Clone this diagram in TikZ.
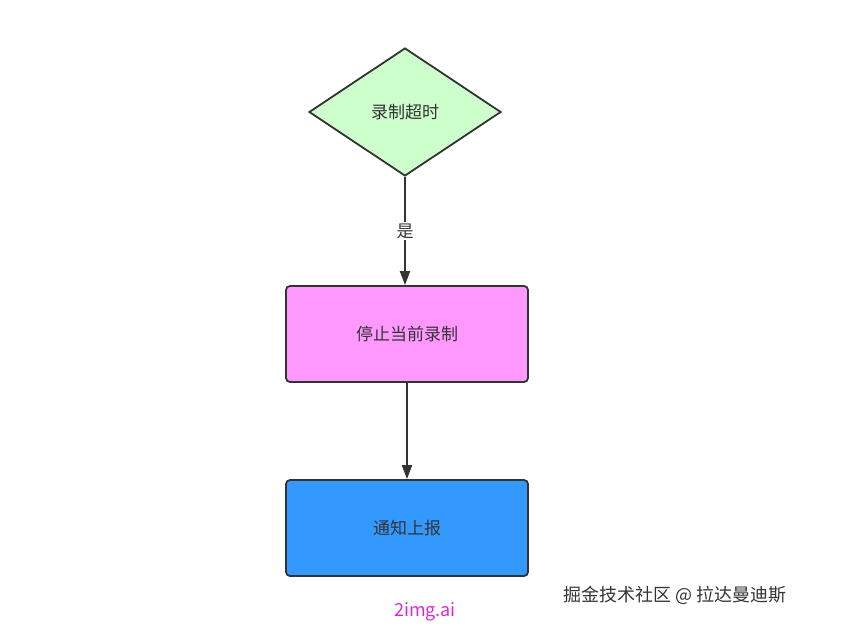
\documentclass[tikz,border=0pt]{standalone}
\usepackage{fontspec}
\setmainfont{Noto Sans CJK SC}
\usetikzlibrary{shapes.geometric,arrows.meta}
\definecolor{edge}{HTML}{333333}
\tikzset{
  box/.style={draw=edge,line width=1.8pt,rounded corners=4pt,minimum width=242pt,minimum height=96pt,font=\fontsize{17}{20}\selectfont,text=edge},
  dec/.style={draw=edge,line width=1.8pt,diamond,minimum width=192pt,minimum height=128pt,inner sep=0pt,fill=green!20,font=\fontsize{17}{20}\selectfont,text=edge},
  conn/.style={draw=edge,line width=2pt,-{Triangle[length=14pt,width=10pt]}}
}
\begin{document}
\begin{tikzpicture}[x=1pt,y=-1pt]
\useasboundingbox (0,0) rectangle (850,628);
\node[dec,fill={rgb,255:red,204;green,255;blue,204}] (d) at (405,112) {录制超时};
\node[box,fill={rgb,255:red,255;green,153;blue,255}] (a) at (407,334) {停止当前录制};
\node[box,fill={rgb,255:red,51;green,153;blue,255}] (b) at (407,528) {通知上报};
\draw[conn] (d.south) -- node[fill=white,inner sep=2pt,font=\fontsize{17}{20}\selectfont,text=edge] {是} (a.north -| d.south);
\draw[conn] (a) -- (b);
\node[font=\fontsize{18}{20}\selectfont,text=edge] (w) at (675,595) {掘金技术社区 @ 拉达曼迪斯};
\node[font=\fontsize{18}{20}\selectfont,text={rgb,255:red,220;green,40;blue,210}] (m) at (425,612) {2img.ai};
\end{tikzpicture}
\end{document}
